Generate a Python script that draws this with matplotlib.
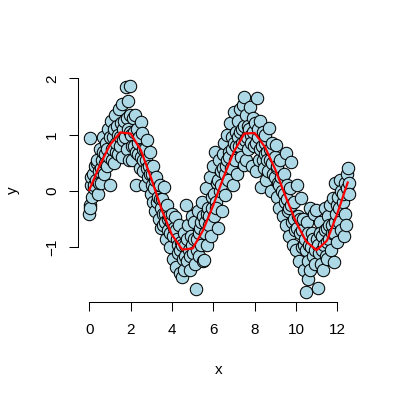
import numpy as np
import matplotlib
matplotlib.use("Agg")
import matplotlib.pyplot as plt

plt.rcParams['font.family'] = ['Liberation Sans', 'DejaVu Sans']

# scatter points (x, y) - outer part of the band
px = [0.00, 0.02, 0.05, 0.08, 0.12, 0.03, 0.18, 0.22, 0.28, 0.33, 0.38, 0.42, 0.47,
      0.52, 0.56, 0.60, 0.65, 0.70, 0.74, 0.80, 0.85, 0.90, 0.95,
      1.02, 1.05, 1.10, 1.15, 1.20, 1.25, 1.30, 1.35, 1.40, 1.45, 1.48,
      1.52, 1.56, 1.60, 1.65, 1.70, 1.76, 1.80, 1.85, 1.87, 1.92, 1.97, 1.99,
      2.03, 2.08, 2.12, 2.18, 2.22, 2.27, 2.30, 2.35, 2.40, 2.46, 2.50,
      2.55, 2.58, 2.62, 2.68, 2.72, 2.78, 2.82, 2.88, 2.94, 2.97,
      3.02, 3.06, 3.10, 3.15, 3.20, 3.25, 3.30, 3.35, 3.40, 3.45, 3.48,
      3.52, 3.57, 3.62, 3.66, 3.70, 3.75, 3.80, 3.85, 3.90, 3.95,
      4.02, 4.06, 4.10, 4.15, 4.20, 4.25, 4.30, 4.35, 4.40, 4.45, 4.48,
      4.52, 4.56, 4.60, 4.65, 4.70, 4.74, 4.78, 4.82, 4.87, 4.92, 4.96,
      5.02, 5.06, 5.10, 5.17, 5.20, 5.25, 5.30, 5.35, 5.40, 5.45, 5.48,
      5.52, 5.56, 5.60, 5.65, 5.70, 5.75, 5.80, 5.85, 5.90, 5.95,
      6.00, 6.04, 6.08, 6.12, 6.18, 6.22, 6.28, 6.32, 6.38, 6.42, 6.47,
      6.52, 6.55, 6.60, 6.65, 6.70, 6.75, 6.80, 6.85, 6.90, 6.96,
      7.02, 7.05, 7.10, 7.15, 7.20, 7.25, 7.30, 7.35, 7.40, 7.45, 7.49, 7.48,
      7.52, 7.56, 7.60, 7.66, 7.70, 7.76, 7.80, 7.86, 7.90, 7.95,
      8.02, 8.06, 8.10, 8.15, 8.20, 8.25, 8.30, 8.35, 8.40, 8.45, 8.48,
      8.52, 8.56, 8.60, 8.65, 8.69, 8.75, 8.80, 8.85, 8.90, 8.96,
      9.02, 9.06, 9.10, 9.15, 9.20, 9.25, 9.30, 9.35, 9.40, 9.45, 9.50,
      9.52, 9.56, 9.60, 9.65, 9.70, 9.75, 9.80, 9.85, 9.90, 9.95,
      10.02, 10.06, 10.10, 10.15, 10.20, 10.24, 10.30, 10.35, 10.40, 10.45, 10.50,
      10.52, 10.56, 10.58, 10.62, 10.66, 10.70, 10.75, 10.80, 10.85, 10.90, 10.96,
      11.02, 11.05, 11.10, 11.15, 11.20, 11.25, 11.30, 11.35, 11.40, 11.45, 11.48,
      11.52, 11.56, 11.60, 11.65, 11.70, 11.75, 11.80, 11.82, 11.85, 11.90, 11.95,
      12.00, 12.05, 12.10, 12.15, 12.20, 12.25, 12.30, 12.35, 12.40, 12.45, 12.50, 12.55, 12.57]
py = [-0.40, 0.94, -0.30, 0.10, -0.10, -0.25, 0.30, 0.05, 0.45, 0.20, 0.55, -0.05, 0.35,
      0.75, 0.15, 0.55, 0.95, 0.30, 0.65, 0.85, 0.45, 1.10, 0.60,
      0.10, 1.25, 0.75, 0.95, 0.50, 1.35, 0.85, 1.15, 0.65, 1.45, 0.95,
      1.20, 0.60, 1.55, 0.90, 1.25, 1.85, 0.75, 1.10, 1.60, 0.55, 1.86, 1.35,
      1.00, 0.55, 1.30, 0.80, 1.35, 0.10, 1.10, 0.65, 0.95, 0.40, 1.22,
      1.03, 0.35, 0.75, 0.10, 0.55, 0.90, 0.25, 0.45, 0.69, -0.05,
      0.30, -0.20, 0.45, 0.05, -0.35, 0.25, -0.10, -0.50, 0.10, -0.30, -0.65,
      -0.15, -0.60, 0.07, -0.40, -0.85, -0.25, -0.70, -0.45, -1.00, -0.55,
      -0.40, -1.20, -0.65, -0.46, -1.35, -0.85, -1.10, -0.60, -1.45, -0.90, -1.53,
      -1.20, -0.75, -1.40, -0.95, -0.25, -1.25, -0.60, -1.05, -1.40, -0.80, -0.45,
      -1.10, -0.55, -1.30, -1.74, -0.85, -0.35, -1.15, -0.65, -0.95, -0.20, -1.25,
      -0.45, -1.22, -0.75, 0.05, -0.95, -0.30, -0.60, 0.25, -0.80, -0.10,
      0.45, -0.45, 0.70, -0.20, 0.15, -0.65, 0.55, 0.00, 0.35, -0.35, 0.65,
      0.85, -0.07, 0.45, 1.00, 0.20, 0.70, 1.20, 0.40, 0.95, 0.10,
      1.40, 0.55, 1.05, 0.30, 1.25, 0.80, 1.45, 0.60, 1.10, 1.52, 1.67, 0.46,
      0.90, 1.35, 0.55, 1.15, 0.75, 1.50, 1.00, 0.45, 1.30, 0.80,
      1.20, 0.35, 1.65, 0.95, 0.55, 1.25, 0.07, 0.80, 1.05, 0.40, 0.65,
      1.00, 0.20, 0.70, 0.35, 1.12, 0.55, 0.00, 0.85, 0.30, 0.60,
      0.82, -0.10, 0.45, 0.15, -0.30, 0.55, 0.00, -0.45, 0.30, -0.20, 0.67,
      -0.60, 0.10, -0.35, -0.80, 0.05, 0.51, -0.55, -0.95, -0.20, -0.70,
      -1.05, 0.10, -0.45, -1.25, -0.75, -0.12, -1.00, -0.50, -1.40, -0.85, -1.79,
      -0.55, -1.25, -1.56, -0.95, -0.30, -1.40, -0.75, -1.15, -0.40, -1.30, -0.34,
      -0.85, -1.72, -1.10, -0.55, -1.30, -0.80, -1.40, -0.95, -0.30, -1.15, -0.65,
      -1.20, -0.45, -0.85, -0.25, -1.05, -0.60, -0.12, -1.26, -0.75, 0.14, -0.40,
      -0.90, -0.10, -0.55, 0.20, -0.70, -0.20, -0.80, -0.40, -0.60, 0.30, 0.40, 0.15, -0.05]

# points in the dense core of the band
core_x = [0.10, 0.25, 0.35, 0.45, 0.58, 0.68, 0.78, 0.88, 0.98, 1.08, 1.18, 1.28, 1.38,
          1.50, 1.62, 1.72, 1.82, 1.95, 2.05, 2.15, 2.25, 2.38, 2.48, 2.60, 2.70, 2.80,
          2.92, 3.05, 3.18, 3.28, 3.42, 3.55, 3.68, 3.80, 3.92, 4.05, 4.18, 4.28, 4.38,
          4.50, 4.62, 4.72, 4.85, 4.98, 5.08, 5.22, 5.32, 5.42, 5.58, 5.68, 5.78, 5.92,
          6.05, 6.15, 6.25, 6.35, 6.45, 6.58, 6.68, 6.78, 6.88, 6.98, 7.08, 7.18, 7.28,
          7.38, 7.50, 7.62, 7.72, 7.82, 7.92, 8.05, 8.18, 8.28, 8.38, 8.50, 8.62, 8.72,
          8.85, 8.98, 9.08, 9.18, 9.28, 9.42, 9.55, 9.68, 9.78, 9.92, 10.05, 10.18, 10.28,
          10.38, 10.48, 10.60, 10.72, 10.82, 10.92, 11.08, 11.18, 11.28, 11.38, 11.50,
          11.62, 11.72, 11.88, 11.98, 12.08, 12.18, 12.28, 12.38, 12.48]
core_y = [0.25, 0.10, 0.50, 0.15, 0.40, 0.70, 0.50, 0.75, 0.95, 0.55, 1.10, 0.70, 1.00,
          0.80, 1.10, 0.95, 1.30, 1.05, 0.80, 1.05, 0.70, 0.85, 0.60, 0.55, 0.75, 0.40,
          0.30, 0.10, 0.20, -0.20, -0.15, -0.40, -0.55, -0.50, -0.75, -0.80, -0.70, -0.95, -1.05,
          -0.95, -1.15, -0.85, -1.15, -0.95, -0.85, -1.05, -0.75, -0.55, -0.55, -0.40, -0.45, -0.30,
          -0.05, -0.30, 0.20, 0.10, 0.40, 0.30, 0.55, 0.60, 0.75, 0.85, 0.80, 0.95, 1.05,
          0.85, 1.15, 0.95, 1.10, 0.85, 1.05, 0.85, 1.10, 0.75, 0.55, 0.85, 0.55, 0.75,
          0.50, 0.25, 0.40, 0.10, 0.25, -0.05, -0.15, -0.30, -0.25, -0.50, -0.65, -0.50, -0.70,
          -0.95, -1.05, -0.75, -1.00, -0.85, -1.05, -0.95, -0.75, -1.05, -0.70, -0.90,
          -0.60, -0.75, -0.55, -0.25, -0.30, 0.00, -0.05, 0.15, 0.05]

# smoothed fit (red line)
fit_x = [0.0, 0.5, 1.0, 1.5, 2.0, 2.5, 3.0, 3.5, 4.0, 4.5, 5.0, 5.5, 6.0,
         6.5, 7.0, 7.5, 8.0, 8.5, 9.0, 9.5, 10.0, 10.5, 11.0, 11.5, 12.0, 12.5]
fit_y = [0.02, 0.45, 0.82, 1.04, 1.02, 0.72, 0.22, -0.33, -0.78, -1.04, -1.02, -0.70, -0.25,
         0.25, 0.70, 1.02, 1.03, 0.78, 0.38, -0.10, -0.55, -0.90, -1.05, -0.88, -0.40, 0.15]

x_ticks = [0, 2, 4, 6, 8, 10, 12]
y_ticks = [-1, 0, 1, 2]

# draw in x order, as the points were plotted
all_x = np.array(px + core_x)
all_y = np.array(py + core_y)
order = np.argsort(all_x, kind='stable')

fig = plt.figure(figsize=(4, 4), dpi=100)
ax = fig.add_axes([78.3 / 400, 98 / 400, (359 - 78.3) / 400, 224 / 400])

ax.scatter(all_x[order], all_y[order], s=80, facecolor='lightblue', edgecolor='black',
           linewidth=0.75, zorder=2)
ax.plot(fit_x, fit_y, color='red', linewidth=1.6, zorder=3)

ax.set_xlim(-0.532, 13.048)
ax.set_ylim(-1.970, 2.006)

for s in ['top', 'right']:
    ax.spines[s].set_visible(False)
ax.spines['left'].set_bounds(-1, 2)
ax.spines['bottom'].set_bounds(0, 12)
for s in ['left', 'bottom']:
    ax.spines[s].set_linewidth(0.75)

ax.set_xticks(x_ticks)
ax.set_yticks(y_ticks)
ax.tick_params(direction='out', length=6.3, width=0.75, labelsize=11)
ax.tick_params(axis='x', pad=8.5)
ax.tick_params(axis='y', pad=7.4, labelrotation=90)
for lab in ax.get_yticklabels():
    lab.set_verticalalignment('center')

ax.set_xlabel('x', fontsize=11, va='center')
ax.set_ylabel('y', fontsize=11, va='center')
ax.xaxis.set_label_coords(0.5, (302 - 370) / 224)
ax.yaxis.set_label_coords((13 - 78.3) / 280.7, 0.5)

fig.savefig('out.png', dpi=100)
